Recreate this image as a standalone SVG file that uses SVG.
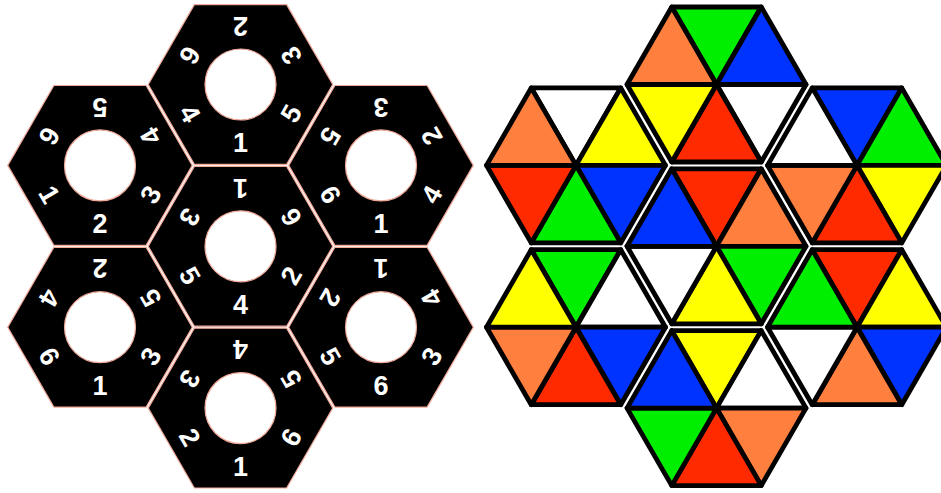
<svg xmlns="http://www.w3.org/2000/svg" xmlns:xlink="http://www.w3.org/1999/xlink" width="941" height="493" viewBox="0 0 941 493">
<style>
.hx{fill:#000;stroke:#f0a898;stroke-width:1.2}
.hole{fill:#fff;stroke:#f0a898;stroke-width:1.2}
.n{fill:#fff;font-family:"Liberation Sans",Arial,sans-serif;font-weight:bold;font-size:27px;text-anchor:middle}
.t{stroke:#000;stroke-width:4.8;stroke-linejoin:round}
.o{fill:#ff7f3f}.g{fill:#00ee00}.b{fill:#0033ff}.r{fill:#ff2a00}.y{fill:#ffff00}.w{fill:#ffffff}
</style>
<defs>
<polygon id="hexL" points="-92.25,0 -46.13,-79.9 46.13,-79.9 92.25,0 46.13,79.9 -46.13,79.9"/>
<path id="tT" d="M-44.75,-77.5 L44.75,-77.5 L0,0Z"/>
<path id="tUR" d="M44.75,-77.5 L89.5,0 L0,0Z"/>
<path id="tLR" d="M89.5,0 L44.75,77.5 L0,0Z"/>
<path id="tB" d="M44.75,77.5 L-44.75,77.5 L0,0Z"/>
<path id="tLL" d="M-44.75,77.5 L-89.5,0 L0,0Z"/>
<path id="tUL" d="M-89.5,0 L-44.75,-77.5 L0,0Z"/>
</defs>
<rect width="941" height="493" fill="#fff"/>
<g id="left-puzzle">
<g id="hL-top" transform="translate(240.5,84.5)"><use xlink:href="#hexL" class="hx"/><circle r="35.5" class="hole"/>
<text class="n" transform="rotate(-180)" y="58" dy=".36em">2</text><text class="n" transform="rotate(-120)" y="58" dy=".36em">3</text><text class="n" transform="rotate(-60)" y="58" dy=".36em">5</text><text class="n" y="58" dy=".36em">1</text><text class="n" transform="rotate(60)" y="58" dy=".36em">4</text><text class="n" transform="rotate(120)" y="58" dy=".36em">6</text></g>
<g id="hL-midleft" transform="translate(100,165.4)"><use xlink:href="#hexL" class="hx"/><circle r="35.5" class="hole"/>
<text class="n" transform="rotate(-180)" y="58" dy=".36em">5</text><text class="n" transform="rotate(-120)" y="58" dy=".36em">4</text><text class="n" transform="rotate(-60)" y="58" dy=".36em">3</text><text class="n" y="58" dy=".36em">2</text><text class="n" transform="rotate(60)" y="58" dy=".36em">1</text><text class="n" transform="rotate(120)" y="58" dy=".36em">6</text></g>
<g id="hL-midright" transform="translate(381,165.4)"><use xlink:href="#hexL" class="hx"/><circle r="35.5" class="hole"/>
<text class="n" transform="rotate(-180)" y="58" dy=".36em">3</text><text class="n" transform="rotate(-120)" y="58" dy=".36em">2</text><text class="n" transform="rotate(-60)" y="58" dy=".36em">4</text><text class="n" y="58" dy=".36em">1</text><text class="n" transform="rotate(60)" y="58" dy=".36em">6</text><text class="n" transform="rotate(120)" y="58" dy=".36em">5</text></g>
<g id="hL-center" transform="translate(240.5,246.3)"><use xlink:href="#hexL" class="hx"/><circle r="35.5" class="hole"/>
<text class="n" transform="rotate(-180)" y="58" dy=".36em">1</text><text class="n" transform="rotate(-120)" y="58" dy=".36em">6</text><text class="n" transform="rotate(-60)" y="58" dy=".36em">2</text><text class="n" y="58" dy=".36em">4</text><text class="n" transform="rotate(60)" y="58" dy=".36em">5</text><text class="n" transform="rotate(120)" y="58" dy=".36em">3</text></g>
<g id="hL-lowleft" transform="translate(100,327.2)"><use xlink:href="#hexL" class="hx"/><circle r="35.5" class="hole"/>
<text class="n" transform="rotate(-180)" y="58" dy=".36em">2</text><text class="n" transform="rotate(-120)" y="58" dy=".36em">5</text><text class="n" transform="rotate(-60)" y="58" dy=".36em">3</text><text class="n" y="58" dy=".36em">1</text><text class="n" transform="rotate(60)" y="58" dy=".36em">6</text><text class="n" transform="rotate(120)" y="58" dy=".36em">4</text></g>
<g id="hL-lowright" transform="translate(381,327.2)"><use xlink:href="#hexL" class="hx"/><circle r="35.5" class="hole"/>
<text class="n" transform="rotate(-180)" y="58" dy=".36em">1</text><text class="n" transform="rotate(-120)" y="58" dy=".36em">4</text><text class="n" transform="rotate(-60)" y="58" dy=".36em">3</text><text class="n" y="58" dy=".36em">6</text><text class="n" transform="rotate(60)" y="58" dy=".36em">5</text><text class="n" transform="rotate(120)" y="58" dy=".36em">2</text></g>
<g id="hL-bottom" transform="translate(240.5,408.1)"><use xlink:href="#hexL" class="hx"/><circle r="35.5" class="hole"/>
<text class="n" transform="rotate(-180)" y="58" dy=".36em">4</text><text class="n" transform="rotate(-120)" y="58" dy=".36em">5</text><text class="n" transform="rotate(-60)" y="58" dy=".36em">6</text><text class="n" y="58" dy=".36em">1</text><text class="n" transform="rotate(60)" y="58" dy=".36em">2</text><text class="n" transform="rotate(120)" y="58" dy=".36em">3</text></g>
</g>
<g id="right-puzzle">
<g id="hR-top" transform="translate(716.5,84.5)"><use xlink:href="#tT" class="t g"/><use xlink:href="#tUR" class="t b"/><use xlink:href="#tLR" class="t w"/><use xlink:href="#tB" class="t r"/><use xlink:href="#tLL" class="t y"/><use xlink:href="#tUL" class="t o"/></g>
<g id="hR-midleft" transform="translate(576,165.4)"><use xlink:href="#tT" class="t w"/><use xlink:href="#tUR" class="t y"/><use xlink:href="#tLR" class="t b"/><use xlink:href="#tB" class="t g"/><use xlink:href="#tLL" class="t r"/><use xlink:href="#tUL" class="t o"/></g>
<g id="hR-midright" transform="translate(857,165.4)"><use xlink:href="#tT" class="t b"/><use xlink:href="#tUR" class="t g"/><use xlink:href="#tLR" class="t y"/><use xlink:href="#tB" class="t r"/><use xlink:href="#tLL" class="t o"/><use xlink:href="#tUL" class="t w"/></g>
<g id="hR-center" transform="translate(716.5,246.3)"><use xlink:href="#tT" class="t r"/><use xlink:href="#tUR" class="t o"/><use xlink:href="#tLR" class="t g"/><use xlink:href="#tB" class="t y"/><use xlink:href="#tLL" class="t w"/><use xlink:href="#tUL" class="t b"/></g>
<g id="hR-lowleft" transform="translate(576,327.2)"><use xlink:href="#tT" class="t g"/><use xlink:href="#tUR" class="t w"/><use xlink:href="#tLR" class="t b"/><use xlink:href="#tB" class="t r"/><use xlink:href="#tLL" class="t o"/><use xlink:href="#tUL" class="t y"/></g>
<g id="hR-lowright" transform="translate(857,327.2)"><use xlink:href="#tT" class="t r"/><use xlink:href="#tUR" class="t y"/><use xlink:href="#tLR" class="t b"/><use xlink:href="#tB" class="t o"/><use xlink:href="#tLL" class="t w"/><use xlink:href="#tUL" class="t g"/></g>
<g id="hR-bottom" transform="translate(716.5,408.1)"><use xlink:href="#tT" class="t y"/><use xlink:href="#tUR" class="t w"/><use xlink:href="#tLR" class="t o"/><use xlink:href="#tB" class="t r"/><use xlink:href="#tLL" class="t g"/><use xlink:href="#tUL" class="t b"/></g>
</g>
<g id="connectors"/>
</svg>
